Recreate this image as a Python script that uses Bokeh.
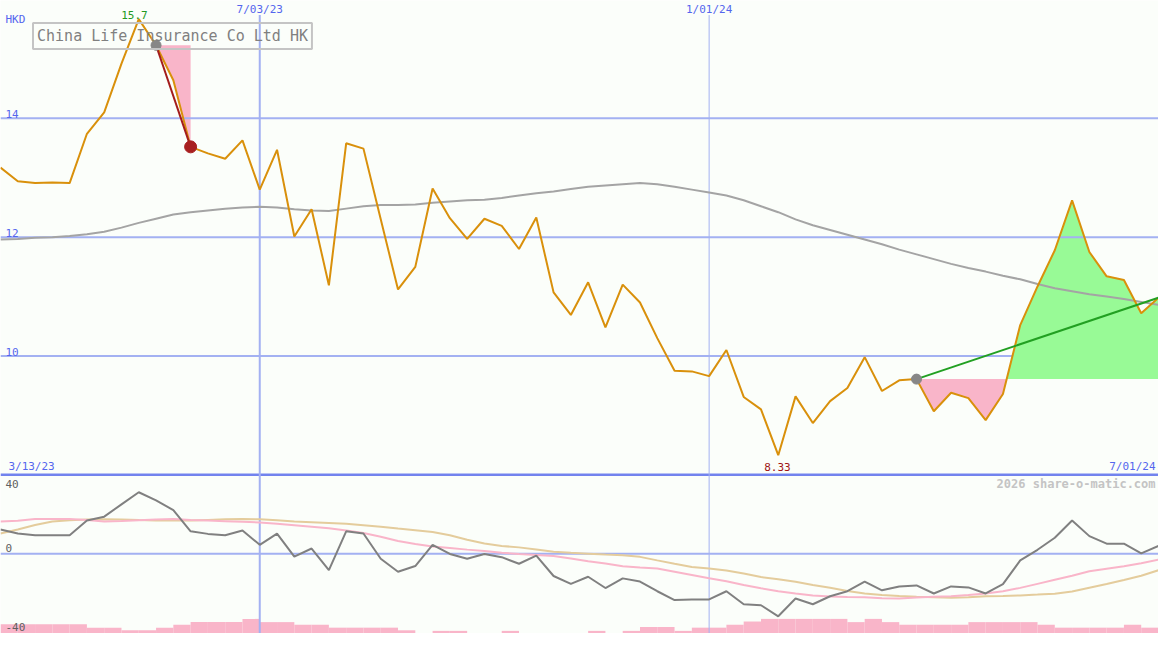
import numpy as np
from bokeh.plotting import figure
from bokeh.models import Range1d, Label
from bokeh.embed import file_html
from bokeh.resources import INLINE

# ---------------- data (weekly points, index 0..67) ----------------
title = "China Life Insurance Co Ltd HK"
currency = "HKD"
date_ticks = [15, 41]
date_tick_labels = ["7/03/23", "1/01/24"]
start_label = "3/13/23"
end_label = "7/01/24"
price_ticks = [14, 12, 10]
ind_tick_labels = ["40", "0", "-40"]
ind_ticks = [40, 0, -40]

price = [13.17, 12.94, 12.91, 12.92, 12.91, 13.74, 14.10, 14.92, 15.67, 15.23,
         14.64, 13.52, 13.41, 13.32, 13.63, 12.80, 13.47, 12.01, 12.47, 11.19,
         13.58, 13.49, 12.30, 11.12, 11.50, 12.82, 12.32, 11.97, 12.31, 12.19,
         11.80, 12.33, 11.07, 10.69, 11.24, 10.48, 11.20, 10.90, 10.30, 9.75,
         9.74, 9.66, 10.10, 9.31, 9.10, 8.33, 9.32, 8.87, 9.24, 9.46,
         9.98, 9.41, 9.59, 9.61, 9.07, 9.38, 9.29, 8.92, 9.36, 10.52,
         11.17, 11.78, 12.62, 11.75, 11.34, 11.28, 10.72, 10.98]

ma = [11.96, 11.97, 11.99, 12.00, 12.02, 12.05, 12.09, 12.16, 12.24, 12.31,
      12.38, 12.42, 12.45, 12.48, 12.50, 12.51, 12.50, 12.47, 12.45, 12.44,
      12.48, 12.52, 12.54, 12.54, 12.55, 12.58, 12.60, 12.62, 12.63, 12.66,
      12.70, 12.74, 12.77, 12.81, 12.85, 12.87, 12.89, 12.91, 12.89, 12.85,
      12.80, 12.75, 12.70, 12.62, 12.52, 12.42, 12.30, 12.20, 12.12, 12.04,
      11.96, 11.88, 11.79, 11.71, 11.63, 11.55, 11.48, 11.42, 11.35, 11.29,
      11.21, 11.14, 11.09, 11.04, 11.00, 10.96, 10.91, 10.86]

osc = [15.0, 12.5, 11.5, 11.5, 11.5, 20.6, 23.0, 30.7, 38.2, 33.1,
       27.1, 13.9, 12.3, 11.5, 14.4, 5.5, 12.5, -1.8, 3.2, -10.3,
       13.9, 12.5, -3.2, -11.3, -7.7, 5.5, -0.2, -3.2, -0.2, -2.2,
       -6.3, -1.2, -13.9, -18.8, -14.4, -21.4, -15.4, -17.4, -23.4, -28.9,
       -28.5, -28.5, -23.4, -31.5, -32.1, -39.0, -27.9, -31.5, -26.5, -23.4,
       -17.4, -22.8, -20.4, -19.8, -24.8, -20.4, -21.0, -24.8, -19.0, -4.2,
       2.4, 9.9, 20.6, 10.9, 6.2, 6.2, 0.2, 4.8]

sig_pink = [20.0, 20.5, 21.6, 21.6, 21.6, 21.0, 20.0, 20.3, 20.8, 21.3,
            21.6, 21.0, 20.6, 20.2, 19.8, 19.4, 18.6, 17.7, 16.8, 15.8,
            14.4, 12.8, 10.5, 7.9, 6.0, 4.5, 3.5, 2.5, 1.6, 0.6,
            -0.2, -0.8, -1.5, -3.0, -4.8, -6.2, -7.8, -8.6, -9.3, -11.3,
            -13.3, -15.3, -17.2, -19.5, -21.6, -23.4, -24.8, -26.0, -26.7, -27.0,
            -27.2, -27.8, -27.9, -27.3, -26.9, -26.5, -25.8, -24.8, -23.4, -21.3,
            -18.8, -16.3, -13.8, -11.0, -9.4, -7.8, -6.0, -3.8]

sig_tan = [12.5, 15.0, 17.8, 20.0, 20.8, 21.2, 21.4, 21.2, 20.9, 20.7,
           20.6, 20.6, 21.0, 21.4, 21.6, 21.4, 20.8, 20.0, 19.6, 19.1,
           18.6, 17.7, 16.7, 15.6, 14.6, 13.5, 11.5, 8.6, 6.3, 4.8,
           3.9, 2.6, 1.2, 0.5, 0.0, -0.6, -1.0, -2.0, -4.2, -6.3,
           -8.3, -9.3, -10.5, -12.4, -14.6, -16.0, -17.5, -19.5, -21.2, -23.2,
           -24.8, -25.7, -26.3, -26.8, -27.2, -27.5, -27.2, -26.5, -26.3, -26.0,
           -25.5, -24.9, -23.6, -21.2, -18.9, -16.4, -13.8, -10.3]

volume = [9.5, 9.5, 9.5, 9.5, 9.5, 6.0, 6.0, 3.3, 3.3, 6.0,
          9.0, 11.7, 11.7, 11.7, 15.0, 11.7, 11.7, 9.0, 9.0, 6.0,
          6.0, 6.0, 6.0, 3.3, 0.0, 2.7, 2.7, 0.0, 0.0, 2.7,
          0.0, 0.0, 0.0, 0.0, 2.7, 0.0, 2.7, 6.7, 6.7, 2.7,
          6.0, 6.0, 9.0, 12.3, 15.0, 15.0, 15.0, 15.0, 15.0, 11.7,
          15.0, 11.7, 9.0, 9.0, 9.0, 9.0, 11.7, 11.7, 11.7, 11.7,
          9.0, 6.0, 6.0, 6.0, 6.0, 9.0, 6.0, 6.0]

signal_start = [9, 53]
signal_end = [11, 67]

# ---------------- layout ----------------
W, H = 1158, 633
REF_W, REF_H = 1175.0, 650.0
n = len(price)
weeks = np.arange(n)

X0, X1 = 0.0, 67.0
P_TOP = 14 + 121 / 61.0
P_BOT = 14 - (650 - 121) / 61.0
I_TOP = 568 / 1.65
I_BOT = (568 - 650) / 1.65

def xi(px):
    return X0 + px / REF_W * (X1 - X0)

def yv(py):
    return P_TOP - py / REF_H * (P_TOP - P_BOT)

BG = "#fbfefa"
p = figure(width=W, height=H, x_range=Range1d(X0, X1), y_range=Range1d(P_BOT, P_TOP),
           output_backend="svg", toolbar_location=None, x_axis_type=None, y_axis_type=None,
           min_border=0, background_fill_color=BG, border_fill_color=BG,
           outline_line_color=None)
p.grid.visible = False
p.extra_y_ranges = {"ind": Range1d(I_BOT, I_TOP), "vol": Range1d(0, 650)}

GRID = "#a3b1f2"
GRID_DARK = "#7283ee"
LBL = "#5566ee"
FONT = "DejaVu Sans Mono"

# volume bars
p.vbar(x=weeks + 0.5, width=1.0, top=volume, bottom=0, y_range_name="vol",
       fill_color="#f9b5c9", line_color=None)

# horizontal grid line under fill
p.line(x=[X0, X1], y=[price_ticks[2]] * 2, color=GRID, line_width=2)
p.line(x=[X0, X1], y=[8, 8], color=GRID_DARK, line_width=2.5)
p.line(x=[X0, X1], y=[0, 0], y_range_name="ind", color=GRID, line_width=2)

# signal fills
def split_fill(xs, ys, base):
    X = [xs[0]]
    Y = [ys[0]]
    for k in range(1, len(xs)):
        y0, y1 = ys[k - 1], ys[k]
        if (y0 - base) * (y1 - base) < 0:
            t = (base - y0) / (y1 - y0)
            X.append(xs[k - 1] + t * (xs[k] - xs[k - 1]))
            Y.append(base)
        X.append(xs[k])
        Y.append(ys[k])
    X = np.array(X, dtype=float)
    Y = np.array(Y, dtype=float)
    return X, np.minimum(Y, base), np.maximum(Y, base)

pr = np.array(price)
for s, e in zip(signal_start, signal_end):
    base = pr[s]
    X, lo, hi = split_fill(weeks[s:e + 1], pr[s:e + 1], base)
    p.varea(x=X, y1=lo, y2=np.full_like(X, base), fill_color="#f9b5c9")
    p.varea(x=X, y1=np.full_like(X, base), y2=hi, fill_color="#98fa96")

# grid lines over fills
for t in price_ticks[:2]:
    p.line(x=[X0, X1], y=[t, t], color=GRID, line_width=2)
ytop_v = yv(15)
p.segment(x0=[date_ticks[0]], y0=[ytop_v], x1=[date_ticks[0]], y1=[P_BOT], color=GRID, line_width=2)
p.segment(x0=[date_ticks[1]], y0=[ytop_v], x1=[date_ticks[1]], y1=[P_BOT], color=GRID, line_width=1)

# indicator lines
p.line(weeks, sig_tan, y_range_name="ind", color="#e4cc9c", line_width=2)
p.line(weeks, sig_pink, y_range_name="ind", color="#f9b5c9", line_width=2)
p.line(weeks, osc, y_range_name="ind", color="#808080", line_width=2)

# moving average & price
p.line(weeks, ma, color="#a4a4a4", line_width=2)
p.line(weeks, price, color="#d9900b", line_width=2)

# signal lines and markers
s0, e0 = signal_start[0], signal_end[0]
s1, e1 = signal_start[1], signal_end[1]
p.line([s0, e0], [price[s0], price[e0]], color="#a31c1c", line_width=2)
p.line([s1, e1], [price[s1], price[e1]], color="#22a022", line_width=2)
p.scatter([s0, s1], [price[s0], price[s1]], size=10, color="#878787")
p.scatter([e0], [price[e0]], size=12, color="#a82020")

# ---------------- texts ----------------
def lab(txt, x, y, color, size="11px", align="left", style="normal", base="middle"):
    p.add_layout(Label(x=x, y=y, text=txt, text_color=color, text_font=FONT,
                       text_font_size=size, text_align=align, text_baseline=base,
                       text_font_style=style))

lab(currency, xi(5), yv(20), LBL)
for t in price_ticks:
    lab(str(t), xi(5), t, LBL, base="bottom")
for t, s in zip(date_ticks, date_tick_labels):
    lab(s, t, yv(9), LBL, align="center")
lab(start_label, xi(8), yv(479), LBL)
lab(end_label, xi(1172), yv(479), LBL, align="right")

imax = int(np.argmax(pr))
imin = int(np.argmin(pr))
lab(f"{pr[imax]:.1f}", imax - 0.25, pr[imax], "#229922", align="center", base="bottom")
lab(f"{pr[imin]:.2f}", imin - 0.05, yv(479), "#a01414", align="center")

lab("2026 share-o-matic.com", xi(1172), yv(496), "#c4c4c4", size="12px", align="right", style="bold")
lab(ind_tick_labels[0], xi(5), yv(496), "#606060")
lab(ind_tick_labels[1], xi(5), yv(562), "#606060")
lab(ind_tick_labels[2], xi(5), yv(643), "#606060")

p.add_layout(Label(x=xi(33), y=yv(36.5), text=title, text_color="#808080", text_font=FONT,
                   text_font_size="15px", text_baseline="middle", text_align="left",
                   border_line_color="#c4c4c4", border_line_width=2,
                   background_fill_color=None, padding=4))

open("out.html", "w").write(file_html(p, INLINE))
